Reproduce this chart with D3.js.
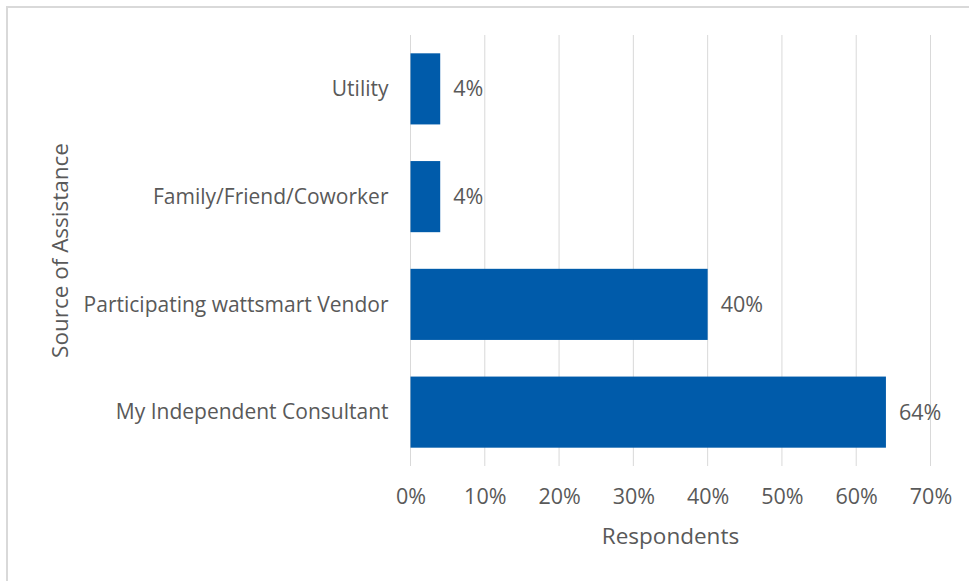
<!DOCTYPE html>
<html>
<head>
<meta charset="utf-8">
<script src="https://cdn.jsdelivr.net/npm/d3@7"></script>
<style>
  html, body { margin: 0; padding: 0; background: #fff; }
  svg { display: block; }
  text { font-family: "Open Sans", "Noto Sans", sans-serif; fill: #595959; }
</style>
</head>
<body>
<svg id="chart" width="969" height="581"></svg>
<script>
// Share of respondents by source of assistance
const categories = ["Utility", "Family/Friend/Coworker", "Participating wattsmart Vendor", "My Independent Consultant"];
const values = [0.04, 0.04, 0.40, 0.64];
const tickValues = [0, 0.1, 0.2, 0.3, 0.4, 0.5, 0.6, 0.7];
const xTitle = "Respondents";
const yTitle = "Source of Assistance";

const svg = d3.select("#chart");
const W = 969, H = 581;
const plot = { left: 410.5, right: 930.5, top: 35, bottom: 466 };
const labelSize = 21;
const numberSize = 21.5;
const titleSize = 22.5;

// chart frame
svg.append("rect")
  .attr("x", 7).attr("y", 7)
  .attr("width", W + 20).attr("height", H + 20)
  .attr("fill", "#fff")
  .attr("stroke", "#d9d9d9").attr("stroke-width", 2);

const x = d3.scaleLinear().domain([0, 0.7]).range([plot.left, plot.right]);
const y = d3.scaleBand().domain(categories)
  .range([plot.top, plot.bottom])
  .paddingInner(0.34).paddingOuter(0.17);

// vertical gridlines
svg.append("g").selectAll("line").data(tickValues).join("line")
  .attr("x1", d => x(d)).attr("x2", d => x(d))
  .attr("y1", plot.top).attr("y2", plot.bottom)
  .attr("stroke", "#d9d9d9").attr("stroke-width", 1);

// x axis tick labels
const xAxis = d3.axisBottom(x).tickValues(tickValues)
  .tickFormat(d3.format(".0%")).tickSize(0).tickPadding(0);
const gx = svg.append("g").attr("transform", `translate(0,${plot.bottom})`).call(xAxis);
gx.select(".domain").remove();
gx.selectAll("text")
  .attr("y", 0).attr("dy", null)
  .attr("transform", "translate(0,38)")
  .style("font-size", numberSize + "px").attr("fill", "#595959")
  .attr("font-family", null);

// y axis category labels
const yAxis = d3.axisLeft(y).tickSize(0).tickPadding(0);
const gy = svg.append("g").attr("transform", `translate(${plot.left - 22},0)`).call(yAxis);
gy.select(".domain").remove();
gy.selectAll("text")
  .attr("dy", "0.35em")
  .style("font-size", labelSize + "px").attr("fill", "#595959")
  .attr("font-family", null);

// bars
svg.append("g").selectAll("rect").data(categories).join("rect")
  .attr("x", x(0))
  .attr("y", d => y(d))
  .attr("width", (d, i) => x(values[i]) - x(0))
  .attr("height", y.bandwidth())
  .attr("fill", "#005BAA");

// value labels
svg.append("g").selectAll("text").data(categories).join("text")
  .attr("x", (d, i) => x(values[i]) + 13)
  .attr("y", d => y(d) + y.bandwidth() / 2)
  .attr("dy", "0.35em")
  .style("font-size", numberSize + "px")
  .text((d, i) => d3.format(".0%")(values[i]));

// axis titles
svg.append("text")
  .attr("x", (plot.left + plot.right) / 2).attr("y", 544)
  .attr("text-anchor", "middle")
  .style("font-size", titleSize + "px")
  .text(xTitle);

svg.append("text")
  .attr("transform", `translate(68,${(plot.top + plot.bottom) / 2}) rotate(-90)`)
  .attr("text-anchor", "middle")
  .style("font-size", titleSize + "px")
  .text(yTitle);
</script>
</body>
</html>
